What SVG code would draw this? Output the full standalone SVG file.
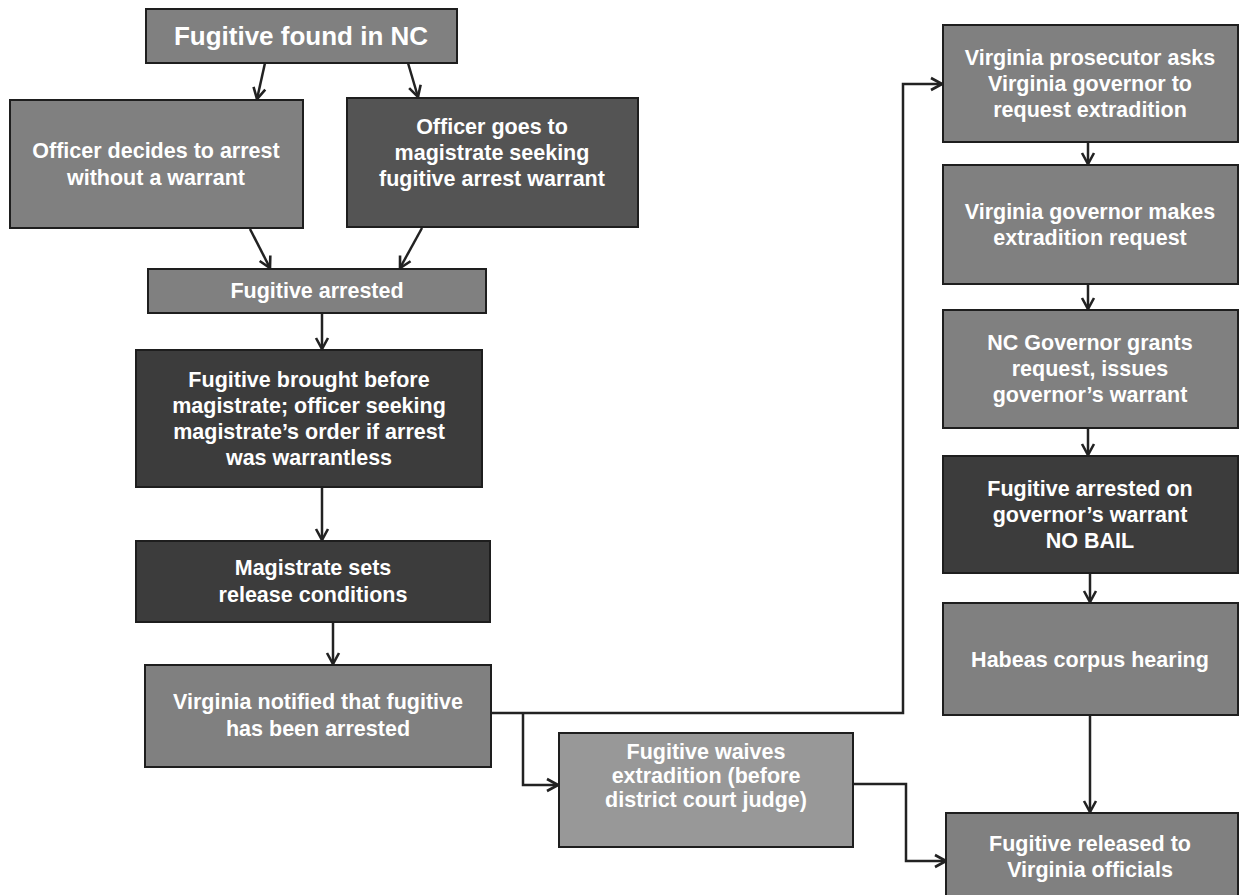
<svg xmlns="http://www.w3.org/2000/svg" width="1240" height="895" viewBox="0 0 1240 895">
<style>
.box{stroke:#1e1e1e;stroke-width:2}
.t{font-family:"Liberation Sans",Arial,sans-serif;font-weight:bold;font-size:21.5px;fill:#ffffff;text-anchor:middle}
.big{font-size:26px}
.c{fill:none;stroke:#222222;stroke-width:2.5;marker-end:url(#ah)}
.m{fill:#808080}
.l{fill:#989898}
.d{fill:#545454}
.k{fill:#3c3c3c}
</style>
<defs>
<marker id="ah" markerUnits="userSpaceOnUse" markerWidth="16" markerHeight="16" viewBox="0 0 16 16" refX="14" refY="8" orient="auto">
<path d="M3,2 L14,8 L3,14" fill="none" stroke="#222222" stroke-width="2.6"/>
</marker>
</defs>
<rect width="1240" height="895" fill="#ffffff"/>
<g id="connectors">
<path class="c" d="M265,63 L257,99"/>
<path class="c" d="M408,63 L418,97"/>
<path class="c" d="M250,229 L270,268"/>
<path class="c" d="M422,228 L400,268"/>
<path class="c" d="M322,314 L322,349"/>
<path class="c" d="M322,488 L322,540"/>
<path class="c" d="M333,622 L333,664"/>
<path class="c" d="M491,713 H903 V84 H942"/>
<path class="c" d="M523,713 V785 H558"/>
<path class="c" d="M853,784 H906 V861 H946"/>
<path class="c" d="M1088,143 V164"/>
<path class="c" d="M1088,285 V309"/>
<path class="c" d="M1088,429 V455"/>
<path class="c" d="M1090,574 V602"/>
<path class="c" d="M1090,716 V812"/>
</g>
<g id="n_found">
<rect class="box m" x="146" y="9" width="311" height="54"/>
<text class="t big" x="301" y="45">Fugitive found in NC</text>
</g>
<g id="n_nowarrant">
<rect class="box m" x="10" y="100" width="293" height="128"/>
<text class="t" x="156" y="158">Officer decides to arrest</text>
<text class="t" x="156" y="185">without a warrant</text>
</g>
<g id="n_seekwarrant">
<rect class="box d" x="347" y="98" width="291" height="129"/>
<text class="t" x="492" y="134">Officer goes to</text>
<text class="t" x="492" y="160">magistrate seeking</text>
<text class="t" x="492" y="186">fugitive arrest warrant</text>
</g>
<g id="n_arrested">
<rect class="box m" x="148" y="269" width="338" height="44"/>
<text class="t" x="317" y="298">Fugitive arrested</text>
</g>
<g id="n_before">
<rect class="box k" x="136" y="350" width="346" height="137"/>
<text class="t" x="309" y="387">Fugitive brought before</text>
<text class="t" x="309" y="413">magistrate; officer seeking</text>
<text class="t" x="309" y="439">magistrate’s order if arrest</text>
<text class="t" x="309" y="465">was warrantless</text>
</g>
<g id="n_release">
<rect class="box k" x="136" y="541" width="354" height="81"/>
<text class="t" x="313" y="575">Magistrate sets</text>
<text class="t" x="313" y="602">release conditions</text>
</g>
<g id="n_notified">
<rect class="box m" x="145" y="665" width="346" height="102"/>
<text class="t" x="318" y="709">Virginia notified that fugitive</text>
<text class="t" x="318" y="736">has been arrested</text>
</g>
<g id="n_waives">
<rect class="box l" x="559" y="733" width="294" height="114"/>
<text class="t" x="706" y="759">Fugitive waives</text>
<text class="t" x="706" y="783">extradition (before</text>
<text class="t" x="706" y="807">district court judge)</text>
</g>
<g id="n_prosecutor">
<rect class="box m" x="943" y="25" width="295" height="117"/>
<text class="t" x="1090" y="65">Virginia prosecutor asks</text>
<text class="t" x="1090" y="91">Virginia governor to</text>
<text class="t" x="1090" y="117">request extradition</text>
</g>
<g id="n_vagov">
<rect class="box m" x="943" y="165" width="295" height="119"/>
<text class="t" x="1090" y="219">Virginia governor makes</text>
<text class="t" x="1090" y="245">extradition request</text>
</g>
<g id="n_ncgov">
<rect class="box m" x="943" y="310" width="295" height="118"/>
<text class="t" x="1090" y="350">NC Governor grants</text>
<text class="t" x="1090" y="376">request, issues</text>
<text class="t" x="1090" y="402">governor’s warrant</text>
</g>
<g id="n_govwarrant">
<rect class="box k" x="943" y="456" width="295" height="117"/>
<text class="t" x="1090" y="496">Fugitive arrested on</text>
<text class="t" x="1090" y="522">governor’s warrant</text>
<text class="t" x="1090" y="548">NO BAIL</text>
</g>
<g id="n_habeas">
<rect class="box m" x="943" y="603" width="295" height="112"/>
<text class="t" x="1090" y="667">Habeas corpus hearing</text>
</g>
<g id="n_released">
<rect class="box m" x="946" y="813" width="292" height="90"/>
<text class="t" x="1090" y="851">Fugitive released to</text>
<text class="t" x="1090" y="877">Virginia officials</text>
</g>
</svg>
